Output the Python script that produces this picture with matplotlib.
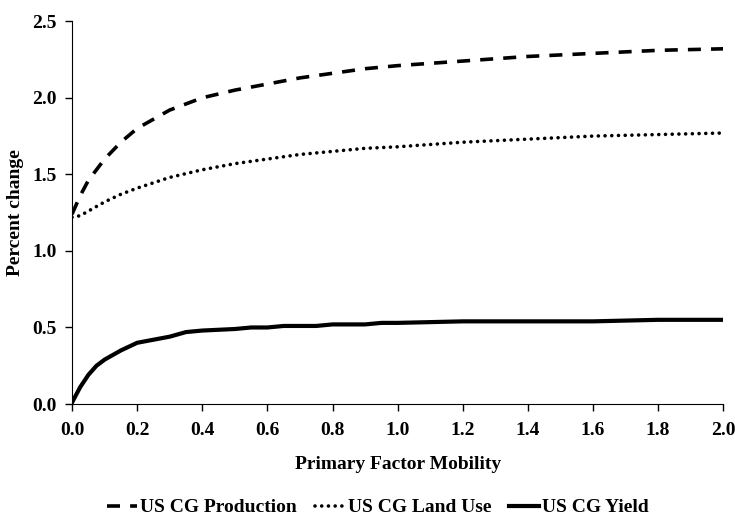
import numpy as np
import matplotlib.pyplot as plt

# --- Data ---
x_prod = [0.0, 0.025, 0.05, 0.1, 0.15, 0.2, 0.25, 0.3, 0.4, 0.5, 0.6, 0.7, 0.8, 0.9, 1.0, 1.2, 1.4, 1.6, 1.8, 2.0]
y_prod = [1.24, 1.36, 1.46, 1.60, 1.71, 1.80, 1.86, 1.92, 2.00, 2.05, 2.09, 2.13, 2.16, 2.19, 2.21, 2.24, 2.27, 2.29, 2.31, 2.32]

x_land = [0.0, 0.025, 0.05, 0.1, 0.15, 0.2, 0.3, 0.4, 0.5, 0.6, 0.7, 0.8, 0.9, 1.0, 1.2, 1.4, 1.6, 1.8, 2.0]
y_land = [1.22, 1.23, 1.26, 1.32, 1.37, 1.41, 1.48, 1.53, 1.57, 1.60, 1.63, 1.65, 1.67, 1.68, 1.71, 1.73, 1.75, 1.76, 1.77]

x_yield = [0.0, 0.025, 0.05, 0.075, 0.1, 0.15, 0.2, 0.3, 0.35, 0.4, 0.5, 0.55, 0.6, 0.65, 0.75, 0.8, 0.9, 0.95, 1.0, 1.2, 1.6, 1.8, 2.0]
y_yield = [0.01, 0.11, 0.19, 0.25, 0.29, 0.35, 0.40, 0.44, 0.47, 0.48, 0.49, 0.50, 0.50, 0.51, 0.51, 0.52, 0.52, 0.53, 0.53, 0.54, 0.54, 0.55, 0.55]

labels = ['US CG Production', 'US CG Land Use', 'US CG Yield']

plt.rcParams['font.family'] = ['Liberation Serif', 'DejaVu Serif']
plt.rcParams['font.weight'] = 'bold'

fig = plt.figure(figsize=(7.35, 5.18), dpi=100)
ax = fig.add_axes([0.098, 0.22, 0.886, 0.739])

ax.plot(x_prod, y_prod, color='black', lw=2.6, linestyle=(0, (3.6, 2.8)), label=labels[0])
ax.plot(x_land, y_land, color='black', lw=2.6, linestyle=(0, (0.01, 1.85)), dash_capstyle='round', label=labels[1])
ax.plot(x_yield, y_yield, color='black', lw=3.0, label=labels[2])

ax.set_xlim(0, 2.0)
ax.set_ylim(0, 2.5)
ax.set_xticks(np.arange(0, 2.01, 0.2))
ax.set_yticks(np.arange(0, 2.51, 0.5))
ax.xaxis.set_major_formatter(plt.FormatStrFormatter('%.1f'))
ax.yaxis.set_major_formatter(plt.FormatStrFormatter('%.1f'))
ax.tick_params(labelsize=14, direction='out', length=5, width=1)
ax.tick_params(axis='x', pad=8)
ax.tick_params(axis='y', pad=6)
for lab in ax.get_xticklabels() + ax.get_yticklabels():
    lab.set_fontweight('bold')

ax.spines['top'].set_visible(False)
ax.spines['right'].set_visible(False)

ax.set_xlabel('Primary Factor Mobility', fontsize=14, fontweight='bold', labelpad=12)
ax.set_ylabel('Percent change', fontsize=14, fontweight='bold', labelpad=6)

fig.legend(loc='center', bbox_to_anchor=(0.514, 0.02), ncol=3, frameon=False,
           handlelength=1.55, handletextpad=0.15, columnspacing=0.9,
           prop={'weight': 'bold', 'size': 14})

fig.savefig('out.png', dpi=100)
